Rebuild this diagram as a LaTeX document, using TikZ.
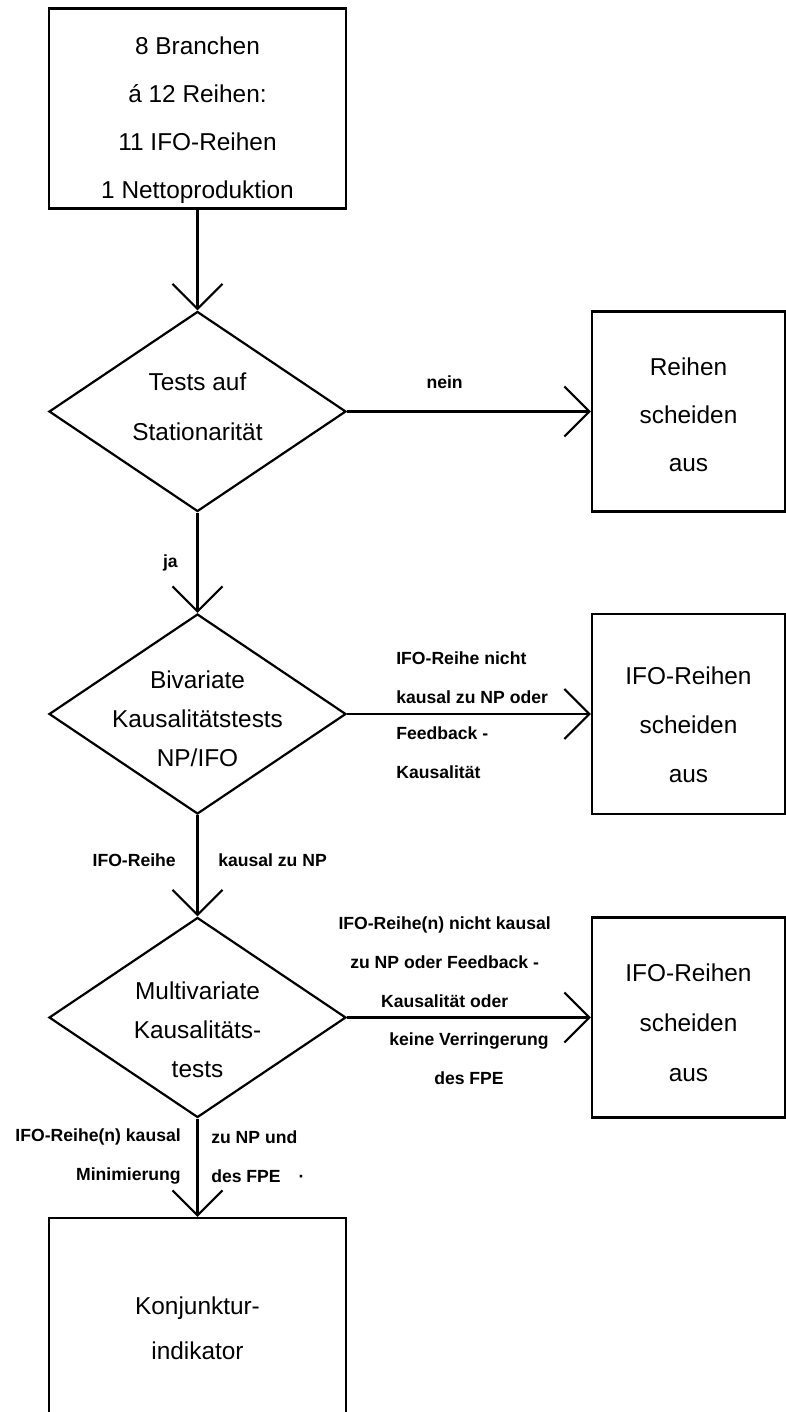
\documentclass[tikz,border=0pt]{standalone}
\usepackage{fontspec}
\setmainfont{Liberation Sans}
\usetikzlibrary{arrows.meta,shapes.geometric,graphs}
\tikzset{
    >={Straight Barb[length=12.5pt,width=25pt]},
    block/.style={draw, rectangle, minimum width=148.5pt, minimum height=100pt, inner sep=0pt},
    outcome/.style={block, minimum width=96.5pt},
    decision/.style={draw, diamond, minimum width=148.5pt, minimum height=100pt, inner sep=0pt},
    txt/.style={align=center, font=\fontsize{12.2}{24}\selectfont},
    lbl/.style={font=\fontsize{8.8}{19.5}\selectfont\bfseries, align=center},
}

\begin{document}
\begin{tikzpicture}[x=0.5pt, y=-0.5pt, line width=1.1pt]
            \useasboundingbox (0,0) rectangle (786,1412);

            \node[block, label={[txt, yshift=-6pt]center:{8 Branchen\\á 12 Reihen:\\11 IFO-Reihen\\1 Nettoproduktion}}] (src) at (197.5,108.5) {} ;
            \node[decision, label={[txt, font=\fontsize{12.2}{25}\selectfont, yshift=2.5pt]center:Tests auf\\Stationarität}] (d1) at (197.5,411.5) {} ;
            \node[outcome, label={[txt, yshift=-1.5pt]center:Reihen\\scheiden\\aus}] (b2) at (688.5,411.5) {} ;
            \node[decision, label={[txt, font=\fontsize{12.2}{19.5}\selectfont, yshift=-2.5pt]center:Bivariate\\Kausalitätstests\\NP/IFO}] (d2) at (197.5,714) {} ;
            \node[outcome, label={[txt, font=\fontsize{12.2}{24.5}\selectfont, yshift=-5.5pt]center:IFO-Reihen\\scheiden\\aus}] (b3) at (688.5,714) {} ;
            \node[decision, label={[txt, font=\fontsize{12.2}{19.5}\selectfont, yshift=-6pt]center:Multivariate\\Kausalitäts-\\tests}] (d3) at (197.5,1017.5) {} ;
            \node[outcome, label={[txt, font=\fontsize{12.2}{25}\selectfont, yshift=-2.5pt]center:IFO-Reihen\\scheiden\\aus}] (b4) at (688.5,1017.5) {} ;
            \node[block, minimum height=110pt, label={[txt, font=\fontsize{12.2}{22.5}\selectfont]center:Konjunktur-\\indikator}] (ind) at (197.5,1328) {} ;

            \graph[use existing nodes] {
                src -> d1 ->[edge node={node[lbl, left=6pt] {ja}}] d2
                    ->[edge node={node[lbl, left=7pt, pos=.45] {IFO-Reihe}
                        node[lbl, right=6.5pt, pos=.45] {kausal zu NP}}] d3
                    ->[edge node={node[lbl, left=4.5pt, pos=.39, align=right] {IFO-Reihe(n) kausal\\Minimierung}
                        node[lbl, right=3pt, pos=.39, align=left] {zu NP und\\des FPE\hspace{9pt}·}}] ind;
                d1 ->[edge node={node[lbl, above=7.5pt, pos=.4] {nein}}] b2;
                d2 ->[edge node={node[lbl, anchor=south west, yshift=1.5pt, pos=.17, align=left] {IFO-Reihe nicht\\kausal zu NP oder}
                        node[lbl, anchor=north west, yshift=-2.5pt, pos=.17, align=left] {Feedback -\\Kausalität}}] b3;
                d3 ->[edge node={node[lbl, above=1pt, pos=.4] {IFO-Reihe(n) nicht kausal\\zu NP oder Feedback -\\Kausalität oder}
                        node[lbl, below=3.5pt, pos=.5] {keine Verringerung\\des FPE}}] b4;
            } ;
        \end{tikzpicture}
\end{document}
